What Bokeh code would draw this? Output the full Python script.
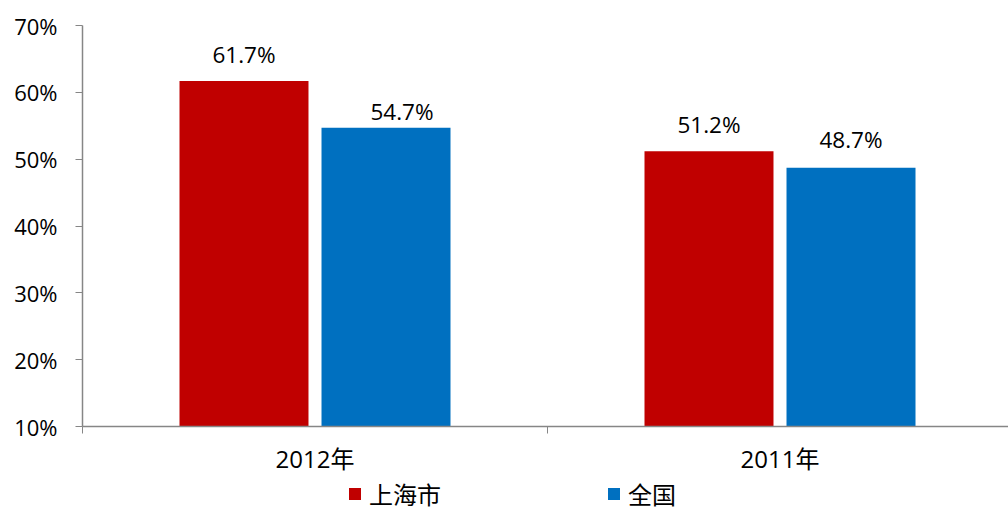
from bokeh.plotting import figure
from bokeh.layouts import column
from bokeh.models import (ColumnDataSource, Range1d, FixedTicker, PrintfTickFormatter,
                          Legend, LegendItem)
from bokeh.core.properties import value
from bokeh.embed import file_html
from bokeh.resources import INLINE

# ---- data ----
categories = ["2012年", "2011年"]
series_names = ["上海市", "全国"]
shanghai = [61.7, 51.2]
national = [54.7, 48.7]
colors = ["#C00000", "#0070C0"]
y_ticks = [10, 20, 30, 40, 50, 60, 70]

# label nudges (screen px) for data labels, order: shanghai..., national...
label_dx = [0, 0, 16, 0]
label_dy = [-26, -27, -16, -28]

W, H, HL = 1008, 477, 34
p = figure(width=W, height=H, output_backend="svg", toolbar_location=None,
           x_range=Range1d(0, 926 / 465), y_range=Range1d(10, 70),
           min_border_left=82, min_border_right=0, min_border_top=25,
           min_border_bottom=H - 25 - 402)
p.outline_line_color = None
p.xgrid.grid_line_color = None
p.ygrid.grid_line_color = None
p.background_fill_color = "white"
p.border_fill_color = "white"

n = len(categories)
centers = [i + 0.5 for i in range(n)]
bw = 0.2774
off = 0.1527

src_a = ColumnDataSource(dict(x=[c - off for c in centers], top=shanghai))
src_b = ColumnDataSource(dict(x=[c + off for c in centers], top=national))
p.vbar(x="x", top="top", bottom=10, width=bw, source=src_a,
       fill_color=colors[0], line_color=None)
p.vbar(x="x", top="top", bottom=10, width=bw, source=src_b,
       fill_color=colors[1], line_color=None)

# data labels
lx = [c - off for c in centers] + [c + off for c in centers]
ly = shanghai + national
lt = ["%.1f%%" % v for v in ly]
lsrc = ColumnDataSource(dict(x=lx, y=ly, t=lt, dx=label_dx, dy=label_dy))
p.text(x="x", y="y", text="t", source=lsrc, x_offset="dx", y_offset="dy",
       text_align="center", text_baseline="middle",
       text_font=value("Open Sans"), text_font_size="22.5px", text_color="#000000")

# y axis
ya = p.yaxis[0]
ya.ticker = FixedTicker(ticks=y_ticks)
ya.formatter = PrintfTickFormatter(format="%d%%")
ya.axis_line_color = "#868686"
ya.major_tick_line_color = "#868686"
ya.major_tick_out = 7
ya.major_tick_in = 0
ya.minor_tick_line_color = None
ya.major_label_standoff = 18
ya.major_label_text_font = "Open Sans"
ya.major_label_text_font_size = "22px"
ya.major_label_text_color = "#000000"
ya.axis_line_width = 1.5

# x axis
xa = p.xaxis[0]
xa.ticker = FixedTicker(ticks=centers, minor_ticks=[float(i) for i in range(n + 1)])
xa.major_label_overrides = {c: categories[i] for i, c in enumerate(centers)}
xa.axis_line_color = "#868686"
xa.axis_line_width = 1.5
xa.major_tick_line_color = None
xa.major_tick_out = 0
xa.major_tick_in = 0
xa.minor_tick_line_color = "#868686"
xa.minor_tick_out = 7
xa.minor_tick_in = 0
xa.major_label_standoff = 8
xa.major_label_text_font = "'Open Sans', 'Noto Sans CJK SC'"
xa.major_label_text_font_size = "24px"
xa.major_label_text_color = "#000000"

# legend strip below the chart (its frame is aligned with the chart's frame)
pl = figure(width=W, height=HL, output_backend="svg", toolbar_location=None,
            x_range=Range1d(0, 1), y_range=Range1d(0, 1),
            x_axis_type=None, y_axis_type=None,
            min_border=0, min_border_left=0, min_border_right=0,
            min_border_top=0, min_border_bottom=0)
pl.outline_line_color = None
pl.xgrid.grid_line_color = None
pl.ygrid.grid_line_color = None
rl = [pl.vbar(x=[-5], top=[-5], bottom=-6, width=0.1, fill_color=c, line_color=None)
      for c in colors]
legend = Legend(items=[LegendItem(label=s, renderers=[r]) for s, r in zip(series_names, rl)],
                location=(265, 0), orientation="horizontal",
                glyph_width=15, glyph_height=15, label_standoff=7, spacing=165,
                padding=0, margin=0, border_line_color=None,
                background_fill_alpha=0,
                label_text_font="Noto Sans CJK SC", label_text_font_size="24px",
                label_text_color="#000000")
pl.add_layout(legend, "center")

layout = column(p, pl, spacing=0)
open("out.html", "w").write(file_html(layout, INLINE))
